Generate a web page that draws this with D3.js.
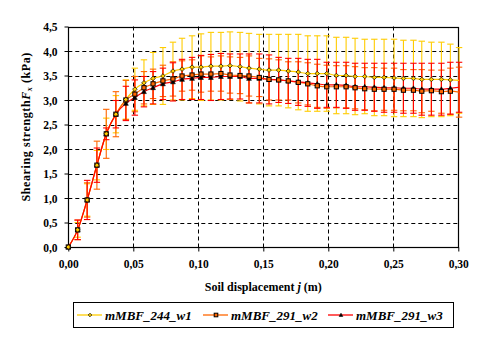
<!DOCTYPE html>
<html><head><meta charset="utf-8">
<script src="https://cdn.jsdelivr.net/npm/d3@7"></script>
<style>
html,body{margin:0;padding:0;background:#fff;}
svg{display:block;}
</style></head>
<body>
<svg id="c" width="488" height="345"></svg>
<script>
// ---- data ----
const disp = [0, 0.0072, 0.0145, 0.0220, 0.0292, 0.0366, 0.0443, 0.0512, 0.0582, 0.0652,
  0.0728, 0.0805, 0.0875, 0.0952, 0.1021, 0.1097, 0.1174, 0.1244, 0.1321, 0.1390,
  0.1469, 0.1544, 0.1618, 0.1692, 0.1769, 0.1842, 0.1915, 0.1988, 0.2062, 0.2137,
  0.2206, 0.2280, 0.2354, 0.2429, 0.2506, 0.2578, 0.2655, 0.2719, 0.2793, 0.2870,
  0.2939, 0.3006];
const w1 = [0, 0.35, 0.96, 1.67, 2.31, 2.71, 3.01, 3.22, 3.35, 3.44, 3.49, 3.59, 3.63, 3.67,
  3.67, 3.69, 3.69, 3.70, 3.68, 3.65, 3.63, 3.61, 3.61, 3.59, 3.57, 3.54, 3.54, 3.54, 3.50,
  3.50, 3.48, 3.48, 3.46, 3.46, 3.45, 3.44, 3.44, 3.42, 3.42, 3.42, 3.41, 3.40];
const w2 = [0, 0.35, 0.96, 1.67, 2.31, 2.71, 3.00, 3.12, 3.25, 3.33, 3.39, 3.43, 3.49, 3.51,
  3.53, 3.53, 3.54, 3.51, 3.50, 3.49, 3.46, 3.42, 3.41, 3.39, 3.36, 3.33, 3.29, 3.27, 3.27,
  3.27, 3.25, 3.23, 3.22, 3.22, 3.22, 3.20, 3.20, 3.18, 3.19, 3.17, 3.18, 3.16];
const w3 = [0, 0.35, 0.96, 1.67, 2.31, 2.71, 2.93, 3.05, 3.17, 3.25, 3.33, 3.37, 3.42, 3.44,
  3.46, 3.46, 3.48, 3.48, 3.48, 3.44, 3.44, 3.42, 3.41, 3.39, 3.37, 3.35, 3.33, 3.31, 3.31,
  3.30, 3.27, 3.27, 3.26, 3.25, 3.25, 3.24, 3.24, 3.22, 3.22, 3.22, 3.24, 3.26];
const e1 = [0, 0.15, 0.33, 0.30, 0.32, 0.38, 0.40, 0.43, 0.47, 0.53, 0.58, 0.59, 0.63, 0.64,
  0.68, 0.69, 0.69, 0.69, 0.70, 0.71, 0.71, 0.73, 0.73, 0.75, 0.77, 0.77, 0.77, 0.77, 0.78,
  0.78, 0.78, 0.76, 0.78, 0.78, 0.79, 0.78, 0.78, 0.78, 0.76, 0.76, 0.73, 0.67];
const e2 = [0, 0.20, 0.35, 0.49, 0.50, 0.46, 0.40, 0.36, 0.33, 0.30, 0.32, 0.35, 0.31, 0.31,
  0.37, 0.35, 0.36, 0.37, 0.37, 0.41, 0.39, 0.42, 0.41, 0.39, 0.42, 0.43, 0.44, 0.44, 0.43,
  0.43, 0.43, 0.43, 0.44, 0.43, 0.43, 0.42, 0.42, 0.44, 0.42, 0.44, 0.47, 0.51];
const e3 = [0, 0.20, 0.40, 0.35, 0.12, 0.28, 0.35, 0.36, 0.31, 0.33, 0.32, 0.39, 0.41, 0.43,
  0.45, 0.47, 0.47, 0.46, 0.46, 0.50, 0.50, 0.50, 0.46, 0.46, 0.48, 0.48, 0.50, 0.46, 0.46,
  0.47, 0.48, 0.48, 0.49, 0.50, 0.50, 0.51, 0.51, 0.53, 0.53, 0.53, 0.53, 0.51];
const seriesNames = ["mMBF_244_w1", "mMBF_291_w2", "mMBF_291_w3"];
const seriesColors = ["#FFCC00", "#FF6600", "#FF0000"];
const seriesShapes = ["diamond", "square", "triangle"];
const xTicks = [0, 0.05, 0.10, 0.15, 0.20, 0.25, 0.30];
const yTicks = [0, 0.5, 1.0, 1.5, 2.0, 2.5, 3.0, 3.5, 4.0, 4.5];

// ---- chart ----
const FONT = "Liberation Serif, Times New Roman, DejaVu Serif, serif";
const svg = d3.select("#c");
const pL = 68.3, pR = 458.3, pT = 26.5, pB = 247;
const x = d3.scaleLinear().domain([0, 0.30]).range([pL, pR]);
const y = d3.scaleLinear().domain([0, 4.5]).range([pB, pT]);
const fmt = (d, n) => d.toFixed(n).replace(".", ",");

// grid
const g = svg.append("g");
g.selectAll(".gy").data(yTicks.filter(t => t > 0 && t < 4.5)).join("line")
  .attr("x1", pL).attr("x2", pR).attr("y1", d => Math.round(y(d)) + 0.5).attr("y2", d => Math.round(y(d)) + 0.5)
  .attr("stroke", "#000").attr("stroke-width", 1).attr("stroke-dasharray", "4,3");
g.selectAll(".gx").data(xTicks.filter(t => t > 0 && t < 0.30)).join("line")
  .attr("y1", pT).attr("y2", pB).attr("x1", d => Math.round(x(d)) + 0.5).attr("x2", d => Math.round(x(d)) + 0.5)
  .attr("stroke", "#000").attr("stroke-width", 1).attr("stroke-dasharray", "4,3");

// frame
svg.append("rect").attr("x", Math.round(pL) + 0.5).attr("y", Math.round(pT) + 0.5)
  .attr("width", Math.round(pR) - Math.round(pL)).attr("height", Math.round(pB) - Math.round(pT))
  .attr("fill", "none").attr("stroke", "#000").attr("stroke-width", 1.2);

// axes
const yAxis = d3.axisLeft(y).tickValues(yTicks).tickSize(4).tickPadding(7).tickFormat(d => fmt(d, 1));
const xAxis = d3.axisBottom(x).tickValues(xTicks).tickSize(4).tickPadding(8).tickFormat(d => fmt(d, 2));
const ya = svg.append("g").attr("transform", `translate(${Math.round(pL) + 0.5},0)`).call(yAxis);
const xa = svg.append("g").attr("transform", `translate(0,${Math.round(pB) + 0.5})`).call(xAxis);
[ya, xa].forEach(a => {
  a.attr("font-family", FONT).attr("font-size", 11.5).attr("font-weight", "bold");
  a.select(".domain").remove();
  a.selectAll("line").attr("stroke", "#000");
  a.selectAll("text").attr("fill", "#000");
});
ya.selectAll("text").attr("dy", "0.35em");

// series
const means = [w1, w2, w3];
const errs = [e1, e2, e3];
const series = means.map((m, k) => disp.map((d, i) => ({ x: d, y: m[i], e: errs[k][i] })));

function marker(sel, shape, color, s) {
  if (shape === "diamond") {
    sel.append("path").attr("d", `M0,${-s}L${s},0L0,${s}L${-s},0Z`)
      .attr("fill", color).attr("stroke", "#000").attr("stroke-width", 0.7);
  } else if (shape === "square") {
    sel.append("rect").attr("x", -s).attr("y", -s).attr("width", 2 * s).attr("height", 2 * s)
      .attr("fill", color).attr("stroke", "#000").attr("stroke-width", 1);
  } else {
    sel.append("path").attr("d", `M0,${-s}L${s},${s * 0.8}L${-s},${s * 0.8}Z`)
      .attr("fill", "#000").attr("stroke", "#000").attr("stroke-width", 0.6);
  }
}

const cap = 3.2;
series.forEach((s, k) => {
  const col = seriesColors[k];
  const eb = svg.append("g").attr("stroke", col).attr("stroke-width", 1.1);
  const pts = s.filter(p => p.e > 0);
  eb.selectAll(".v").data(pts).join("line")
    .attr("x1", p => x(p.x)).attr("x2", p => x(p.x))
    .attr("y1", p => y(p.y + p.e)).attr("y2", p => y(p.y - p.e));
  eb.selectAll(".t").data(pts).join("line")
    .attr("x1", p => x(p.x) - cap).attr("x2", p => x(p.x) + cap)
    .attr("y1", p => y(p.y + p.e)).attr("y2", p => y(p.y + p.e));
  eb.selectAll(".b").data(pts).join("line")
    .attr("x1", p => x(p.x) - cap).attr("x2", p => x(p.x) + cap)
    .attr("y1", p => y(p.y - p.e)).attr("y2", p => y(p.y - p.e));
});
series.forEach((s, k) => {
  const col = seriesColors[k];
  svg.append("path").datum(s)
    .attr("d", d3.line().x(p => x(p.x)).y(p => y(p.y)).curve(d3.curveMonotoneX))
    .attr("fill", "none").attr("stroke", col).attr("stroke-width", 1.2);
});
[2, 1, 0].forEach(k => {
  const s = series[k];
  const col = seriesColors[k];
  const sz = [2.3, 2.1, 2.4][k];
  svg.append("g").selectAll("g").data(s.filter(p => p.x <= 0.3)).join("g")
    .attr("transform", p => `translate(${x(p.x)},${y(p.y)})`)
    .each(function () { marker(d3.select(this), seriesShapes[k], col, sz); });
});

// axis titles
const yt = svg.append("text").attr("transform", `translate(30,${(pT + pB) / 2 - 10}) rotate(-90)`)
  .attr("text-anchor", "middle").attr("font-family", FONT).attr("font-weight", "bold")
  .attr("font-size", 12).attr("letter-spacing", 0.6);
yt.append("tspan").text("Shearing strength");
yt.append("tspan").attr("font-style", "italic").text("F");
yt.append("tspan").attr("dy", 2).attr("font-size", 8).attr("font-style", "italic").text("x");
yt.append("tspan").attr("dy", -2).text(" (kPa)");

const xt = svg.append("text").attr("x", (pL + pR) / 2).attr("y", 291)
  .attr("text-anchor", "middle").attr("font-family", FONT).attr("font-weight", "bold").attr("font-size", 12);
xt.append("tspan").text("Soil displacement ");
xt.append("tspan").attr("font-style", "italic").text("j");
xt.append("tspan").text("  (m)");

// legend
const lg = svg.append("g");
lg.append("rect").attr("x", 73.5).attr("y", 302.5).attr("width", 380).attr("height", 25)
  .attr("fill", "#fff").attr("stroke", "#000").attr("stroke-width", 1);
const lx = [77, 203, 328];
seriesNames.forEach((n, k) => {
  const it = lg.append("g").attr("transform", `translate(${lx[k]},315)`);
  it.append("line").attr("x1", 0).attr("x2", 25).attr("stroke", seriesColors[k]).attr("stroke-width", 1.3);
  const m = it.append("g").attr("transform", "translate(13,0)");
  marker(m, seriesShapes[k], seriesColors[k], 1.8);
  it.append("text").attr("x", 28).attr("y", 5).attr("font-family", FONT).attr("font-weight", "bold")
    .attr("font-style", "italic").attr("font-size", 13).text(n);
});
</script>
</body></html>
